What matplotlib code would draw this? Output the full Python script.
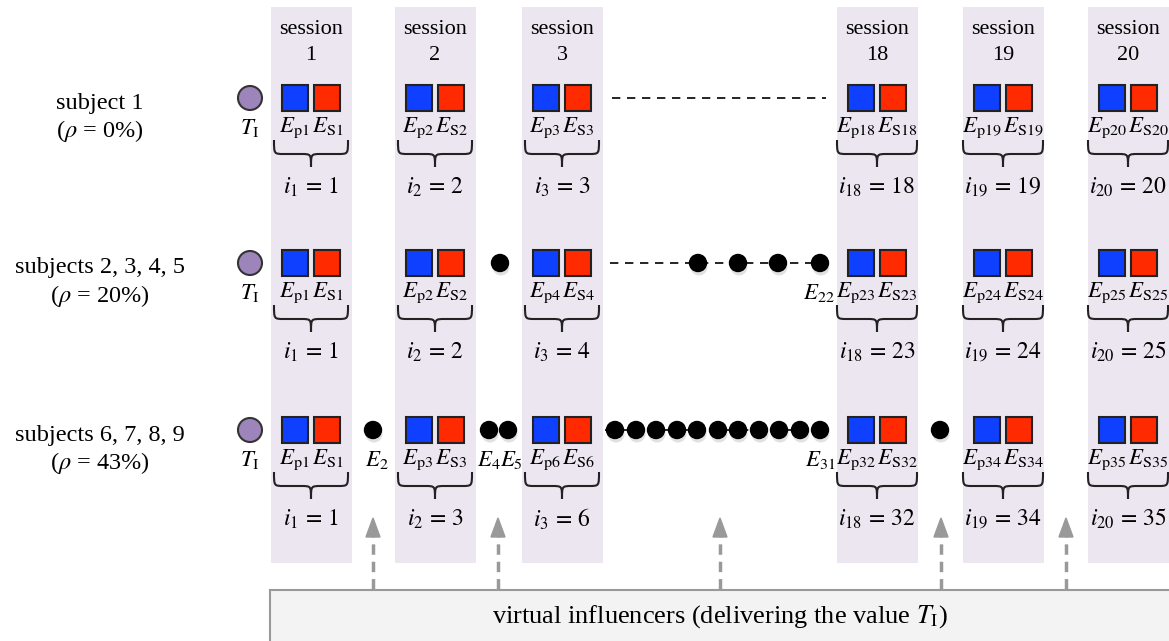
import matplotlib.pyplot as plt
from matplotlib.patches import Rectangle, Circle, Polygon, PathPatch
from matplotlib.path import Path

plt.rcParams['font.family'] = ['Liberation Serif', 'DejaVu Serif']
plt.rcParams['mathtext.fontset'] = 'stix'

# data
sessions = [1, 2, 3, 18, 19, 20]
subjects = ['subject 1', 'subjects 2, 3, 4, 5', 'subjects 6, 7, 8, 9']
rho = [0, 20, 43]
# index of the self-evaluation event in each shown session, per subject group
event_index = [
    [1, 2, 3, 18, 19, 20],
    [1, 2, 4, 23, 24, 25],
    [1, 3, 6, 32, 34, 35],
]
# labels of the influencer events (dots), per subject group
dot_labels = [
    [],
    ['', '', '', '', r'$E_{22}$'],
    [r'$E_2$', r'$E_4E_5$', '', '', '', '', '', '', '', '', '', '', '', r'$E_{31}$', ''],
]

# layout (pixels)
W, H = 1169, 641
col_x = [311, 435, 562, 877, 1003, 1128]
col_w = 81
row_y = [98, 263, 430]
dots_x = [
    [],
    [500, 698, 738, 778, 820],
    [373, 489, 508, 615, 636, 656, 677, 697, 718, 738, 759, 779, 800, 820, 940],
]
# where each dot label sits (x, alignment)
label_pos = {r'$E_2$': (377, 'center'), r'$E_4E_5$': (500, 'center'),
             r'$E_{22}$': (835, 'right'), r'$E_{31}$': (835, 'right')}
dash_span = [(612, 826), (610, 820), (605, 820)]
arrows_x = [373, 498, 720, 941, 1066]

BLUE = '#1040ff'
RED = '#ff2a00'
LAV = '#ebe6f0'
PURPLE = '#9d85bb'
FS = 16
FM = 16.5

fig = plt.figure(figsize=(W / 100, H / 100), dpi=100)
ax = fig.add_axes([0, 0, 1, 1])
ax.set_xlim(0, W)
ax.set_ylim(H, 0)
ax.axis('off')


def brace(xl, xr, ytop):
    xc = (xl + xr) / 2
    ym = ytop + 14
    tip = ytop + 27
    r = 10
    verts = [(xl, ytop), (xl, ym), (xl, ym), (xl + r, ym),
             (xc - r, ym),
             (xc, ym), (xc, ym), (xc, tip),
             (xr, ytop), (xr, ym), (xr, ym), (xr - r, ym),
             (xc + r, ym),
             (xc, ym), (xc, ym), (xc, tip)]
    codes = [Path.MOVETO, Path.CURVE4, Path.CURVE4, Path.CURVE4,
             Path.LINETO,
             Path.CURVE4, Path.CURVE4, Path.CURVE4,
             Path.MOVETO, Path.CURVE4, Path.CURVE4, Path.CURVE4,
             Path.LINETO,
             Path.CURVE4, Path.CURVE4, Path.CURVE4]
    ax.add_patch(PathPatch(Path(verts, codes), fc='none', ec='#222222', lw=1.5, zorder=4))


def dot(x, y, r=8.5):
    ax.add_patch(Circle((x + 1, y + 4), r, fc='#888888', ec='none', alpha=0.25, zorder=2))
    ax.add_patch(Circle((x, y), r, fc='black', ec='black', lw=1, zorder=3))


# session columns
for cx, s in zip(col_x, sessions):
    ax.add_patch(Rectangle((cx - col_w / 2, 7), col_w, 556, fc=LAV, ec='none', zorder=0))
    ax.text(cx, 29, 'session', ha='center', va='center', fontsize=FS)
    ax.text(cx, 55, str(s), ha='center', va='center', fontsize=FS)

# rows
for r, y in enumerate(row_y):
    ax.text(100, y + 5, subjects[r], ha='center', va='center', fontsize=17.5)
    ax.text(100, y + 33, r'($\rho$ = %d%%)' % rho[r], ha='center', va='center', fontsize=17.5)

    # initial opinion
    ax.add_patch(Circle((250, y), 12, fc=PURPLE, ec='#333333', lw=1.5, zorder=3))
    ax.text(250, y + 30, r'$T_\mathrm{I}$', ha='center', va='center', fontsize=FM)

    # dashed gap line
    x0, x1 = dash_span[r]
    ax.plot([x0, x1], [y, y], color='black', lw=1.2, ls=(0, (5, 4)), zorder=1)

    for k, (cx, idx) in enumerate(zip(col_x, event_index[r])):
        ax.add_patch(Rectangle((cx - 29, y - 13), 26, 26, fc=BLUE, ec='#222222', lw=1.5, zorder=3))
        ax.add_patch(Rectangle((cx + 3, y - 13), 26, 26, fc=RED, ec='#222222', lw=1.5, zorder=3))
        ax.text(cx, y + 30, r'$E_{\mathrm{p}%d}\,E_{\mathrm{S}%d}$' % (idx, idx),
                ha='center', va='center', fontsize=FM)
        half = 37 if idx < 10 else 40
        brace(cx - half, cx + half, y + 42)
        ax.text(cx, y + 89, r'$i_{%d}\,=\,%d$' % (sessions[k], idx),
                ha='center', va='center', fontsize=17)

    for x, lab in zip(dots_x[r], dot_labels[r]):
        dot(x, y)
        if lab:
            lx, ha = label_pos[lab]
            ax.text(lx, y + 30, lab, ha=ha, va='center', fontsize=FM)

# virtual influencer box and arrows
ax.add_patch(Rectangle((270, 590), 920, 60, fc='#f3f3f3', ec='#999999', lw=1.5, zorder=1))
ax.text(720, 617, r'virtual influencers (delivering the value $T_\mathrm{I}$)',
        ha='center', va='center', fontsize=19)
for x in arrows_x:
    ax.plot([x, x], [589, 534], color='#999999', lw=2.5, ls=(0, (3, 2)), zorder=2)
    ax.add_patch(Polygon([(x - 7, 537), (x + 7, 537), (x, 518)], closed=True,
                         fc='#999999', ec='#999999', lw=1, zorder=2))

fig.savefig('out.png', dpi=100)
